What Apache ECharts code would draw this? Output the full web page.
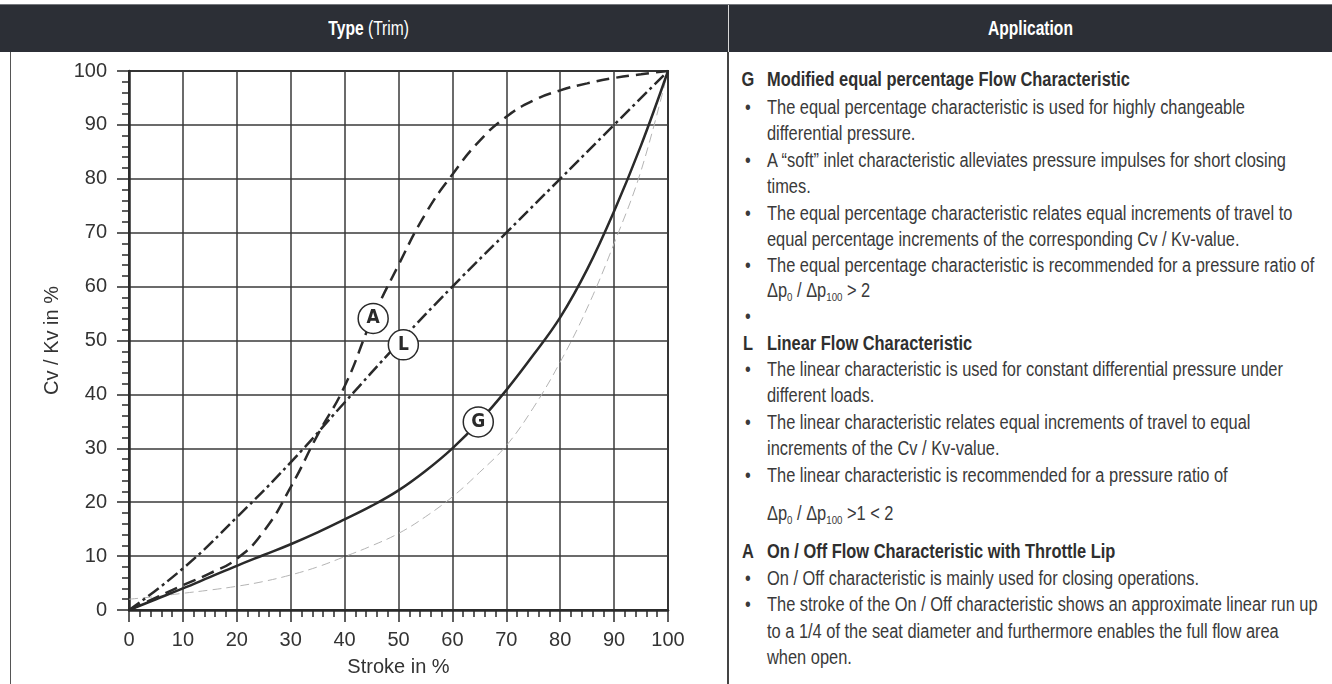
<!DOCTYPE html>
<html>
<head>
<meta charset="utf-8">
<script src="https://cdn.jsdelivr.net/npm/echarts@6/dist/echarts.min.js"></script>
<style>
  html, body { margin: 0; padding: 0; background: #fff; }
  body { width: 1332px; height: 684px; position: relative; overflow: hidden;
         font-family: "Liberation Sans", Arial, sans-serif; color: #333; }
  #topline { position: absolute; left: 0; top: 4px; width: 1332px; height: 1px; background: #75787d; }
  #hdr { position: absolute; left: 0; top: 5px; width: 1332px; height: 47px; background: #2c2f36; color: #fff; font-size: 20px; }
  #hdr .cell { position: absolute; top: 0; height: 47px; line-height: 47px; text-align: center; }
  #hdr .sq { display: inline-block; transform: scaleX(0.78); }
  #hdr b { font-weight: bold; }
  #hdrdiv { position: absolute; left: 728px; top: 5px; width: 1px; height: 47px; background: #d8d8d8; }
  #lborder { position: absolute; left: 10px; top: 52px; width: 1px; height: 632px; background: #555; }
  #divider { position: absolute; left: 727px; top: 52px; width: 2px; height: 632px; background: #444; }
  #chart { position: absolute; left: 0; top: 0; width: 728px; height: 684px; }
  #app { position: absolute; left: 741px; top: 65.7px; width: 760px; font-size: 19.5px; line-height: 26.4px;
         color: #3a3a3a; transform-origin: 0 0; }
  #app .ln { position: relative; padding-left: 32px; white-space: nowrap; height: 26.4px; }
  #app .ln.b { top: 2px; }
  #app .mk { position: absolute; left: 0; width: 21px; text-align: center; }
  #app .ttl { font-weight: bold; color: #2f2f2f; }
  #app sub { font-size: 11.5px; vertical-align: -4px; line-height: 0; }
  #app .gap { margin-top: 12px; }
</style>
</head>
<body>
<div id="chart"></div>
<div id="topline"></div>
<div id="hdr">
  <div class="cell" style="left:10px;width:718px;"><span class="sq"><b>Type</b> (Trim)</span></div>
  <div class="cell" style="left:729px;width:603px;"><span class="sq"><b>Application</b></span></div>
</div>
<div id="hdrdiv"></div>
<div id="lborder"></div>
<div id="divider"></div>

<div id="app">
  <div class="ln ttl"><span class="mk">G</span>Modified equal percentage Flow Characteristic</div>
  <div class="ln b"><span class="mk">•</span><span id="refline">The equal percentage characteristic is used for highly changeable</span></div>
  <div class="ln b">differential pressure.</div>
  <div class="ln b"><span class="mk">•</span>A “soft” inlet characteristic alleviates pressure impulses for short closing</div>
  <div class="ln b">times.</div>
  <div class="ln b"><span class="mk">•</span>The equal percentage characteristic relates equal increments of travel to</div>
  <div class="ln b">equal percentage increments of the corresponding Cv / Kv-value.</div>
  <div class="ln b"><span class="mk">•</span>The equal percentage characteristic is recommended for a pressure ratio of</div>
  <div class="ln">Δp<sub>0</sub> / Δp<sub>100</sub> &gt; 2</div>
  <div class="ln"><span class="mk">•</span></div>
  <div class="ln ttl"><span class="mk">L</span>Linear Flow Characteristic</div>
  <div class="ln"><span class="mk">•</span>The linear characteristic is used for constant differential pressure under</div>
  <div class="ln">different loads.</div>
  <div class="ln"><span class="mk">•</span>The linear characteristic relates equal increments of travel to equal</div>
  <div class="ln">increments of the Cv / Kv-value.</div>
  <div class="ln"><span class="mk">•</span>The linear characteristic is recommended for a pressure ratio of</div>
  <div class="ln gap">Δp<sub>0</sub> / Δp<sub>100</sub> &gt;1 &lt; 2</div>
  <div class="ln ttl gap"><span class="mk">A</span>On / Off Flow Characteristic with Throttle Lip</div>
  <div class="ln"><span class="mk">•</span>On / Off characteristic is mainly used for closing operations.</div>
  <div class="ln"><span class="mk">•</span>The stroke of the On / Off characteristic shows an approximate linear run up</div>
  <div class="ln">to a 1/4 of the seat diameter and furthermore enables the full flow area</div>
  <div class="ln">when open.</div>
</div>

<script>
// stroke in %, Cv/Kv in %
var stroke = [0, 10, 20, 30, 40, 50, 60, 70, 80, 90, 100];
var linearL = [0, 7.7, 17.2, 27.4, 38.5, 49.5, 60, 70, 80, 90, 100];

var stroke5 = [0, 5, 10, 15, 20, 25, 30, 35, 40, 45, 50, 55, 60, 65, 70, 75, 80, 85, 90, 95, 100];
var modifiedG = [0, 2, 4, 6.1, 8.2, 10.2, 12.2, 14.4, 16.8, 19.3, 22.2, 25.8, 30, 35, 40.8, 47.3, 54.3, 63.2, 74, 86.2, 100];
var equalRef = [2, 2.5, 3.1, 3.7, 4.4, 5.3, 6.5, 8, 9.9, 11.9, 14.2, 17.3, 21, 25.5, 30.5, 37.5, 46, 56, 68, 81.5, 100];
var onOffA = [0, 2.3, 4.6, 6.8, 9.5, 14.6, 22.8, 32.5, 41.5, 53.7, 64, 73.5, 80.8, 87, 91.5, 94.5, 96.4, 97.7, 98.7, 99.4, 100];

// circled curve markers
var markNames = ['A', 'L', 'G'];
var markX = [45.3, 50.9, 64.8];
var markY = [54.1, 49.2, 34.9];

var pairs = function (xs, ys) {
  return xs.map(function (x, i) { return [x, ys[i]]; });
};

// squeeze the application text to a condensed width
var app = document.getElementById('app');
var sx = 478 / document.getElementById('refline').getBoundingClientRect().width;
app.style.transform = 'scaleX(' + sx + ')';
Array.prototype.forEach.call(app.querySelectorAll('.ln'), function (el) {
  el.style.paddingLeft = (26 / sx) + 'px';
});
Array.prototype.forEach.call(app.querySelectorAll('.mk'), function (el) {
  el.style.width = (14 / sx) + 'px';
});

var ink = '#2a2a2a';
var chart = echarts.init(document.getElementById('chart'));

var axisCommon = {
  type: 'value',
  min: 0,
  max: 100,
  interval: 10,
  axisLine: { show: true, lineStyle: { color: ink, width: 2.5 } },
  axisTick: { show: true, length: 12, lineStyle: { color: ink, width: 1.5 } },
  minorTick: { show: true, splitNumber: 5, length: 7, lineStyle: { color: ink, width: 1.5 } },
  splitLine: { show: true, lineStyle: { color: '#3a3a3a', width: 1.5 } },
  axisLabel: { color: '#333', fontSize: 20, fontFamily: 'Liberation Sans' },
  nameLocation: 'middle',
  nameTextStyle: { color: '#333', fontSize: 20, fontFamily: 'Liberation Sans' }
};

chart.setOption({
  animation: false,
  grid: { left: 129, top: 71, width: 539, height: 539, show: true, borderColor: ink, borderWidth: 2 },
  xAxis: Object.assign({}, axisCommon, {
    name: 'Stroke in %',
    nameGap: 47,
    axisLabel: Object.assign({}, axisCommon.axisLabel, { margin: 20 })
  }),
  yAxis: Object.assign({}, axisCommon, {
    name: 'Cv / Kv in %',
    nameGap: 48,
    axisLabel: Object.assign({}, axisCommon.axisLabel, { margin: 22 })
  }),
  series: [
    {
      type: 'line',
      data: pairs(stroke5, equalRef),
      smooth: 0.4,
      showSymbol: false,
      lineStyle: { color: '#b4b4b4', width: 1, type: [9, 5] },
      z: 2
    },
    {
      type: 'line',
      data: pairs(stroke5, modifiedG),
      smooth: 0.4,
      showSymbol: false,
      lineStyle: { color: ink, width: 2.5 },
      z: 3
    },
    {
      type: 'line',
      data: pairs(stroke, linearL),
      smooth: 0.5,
      showSymbol: false,
      lineStyle: { color: ink, width: 2.5, type: [13, 4, 3, 4] },
      z: 3
    },
    {
      type: 'line',
      data: pairs(stroke5, onOffA),
      smooth: 0.5,
      showSymbol: false,
      lineStyle: { color: ink, width: 2.5, type: [13, 7] },
      z: 3
    },
    {
      type: 'scatter',
      data: markNames.map(function (n, i) { return { name: n, value: [markX[i], markY[i]] }; }),
      symbolSize: 30,
      itemStyle: { color: '#fff', borderColor: ink, borderWidth: 1.5, opacity: 1 },
      label: {
        show: true,
        position: 'inside',
        formatter: '{b}',
        color: ink,
        fontSize: 19,
        fontWeight: 'bold',
        fontFamily: 'DejaVu Sans Condensed, sans-serif'
      },
      z: 5
    }
  ]
});
</script>
</body>
</html>
